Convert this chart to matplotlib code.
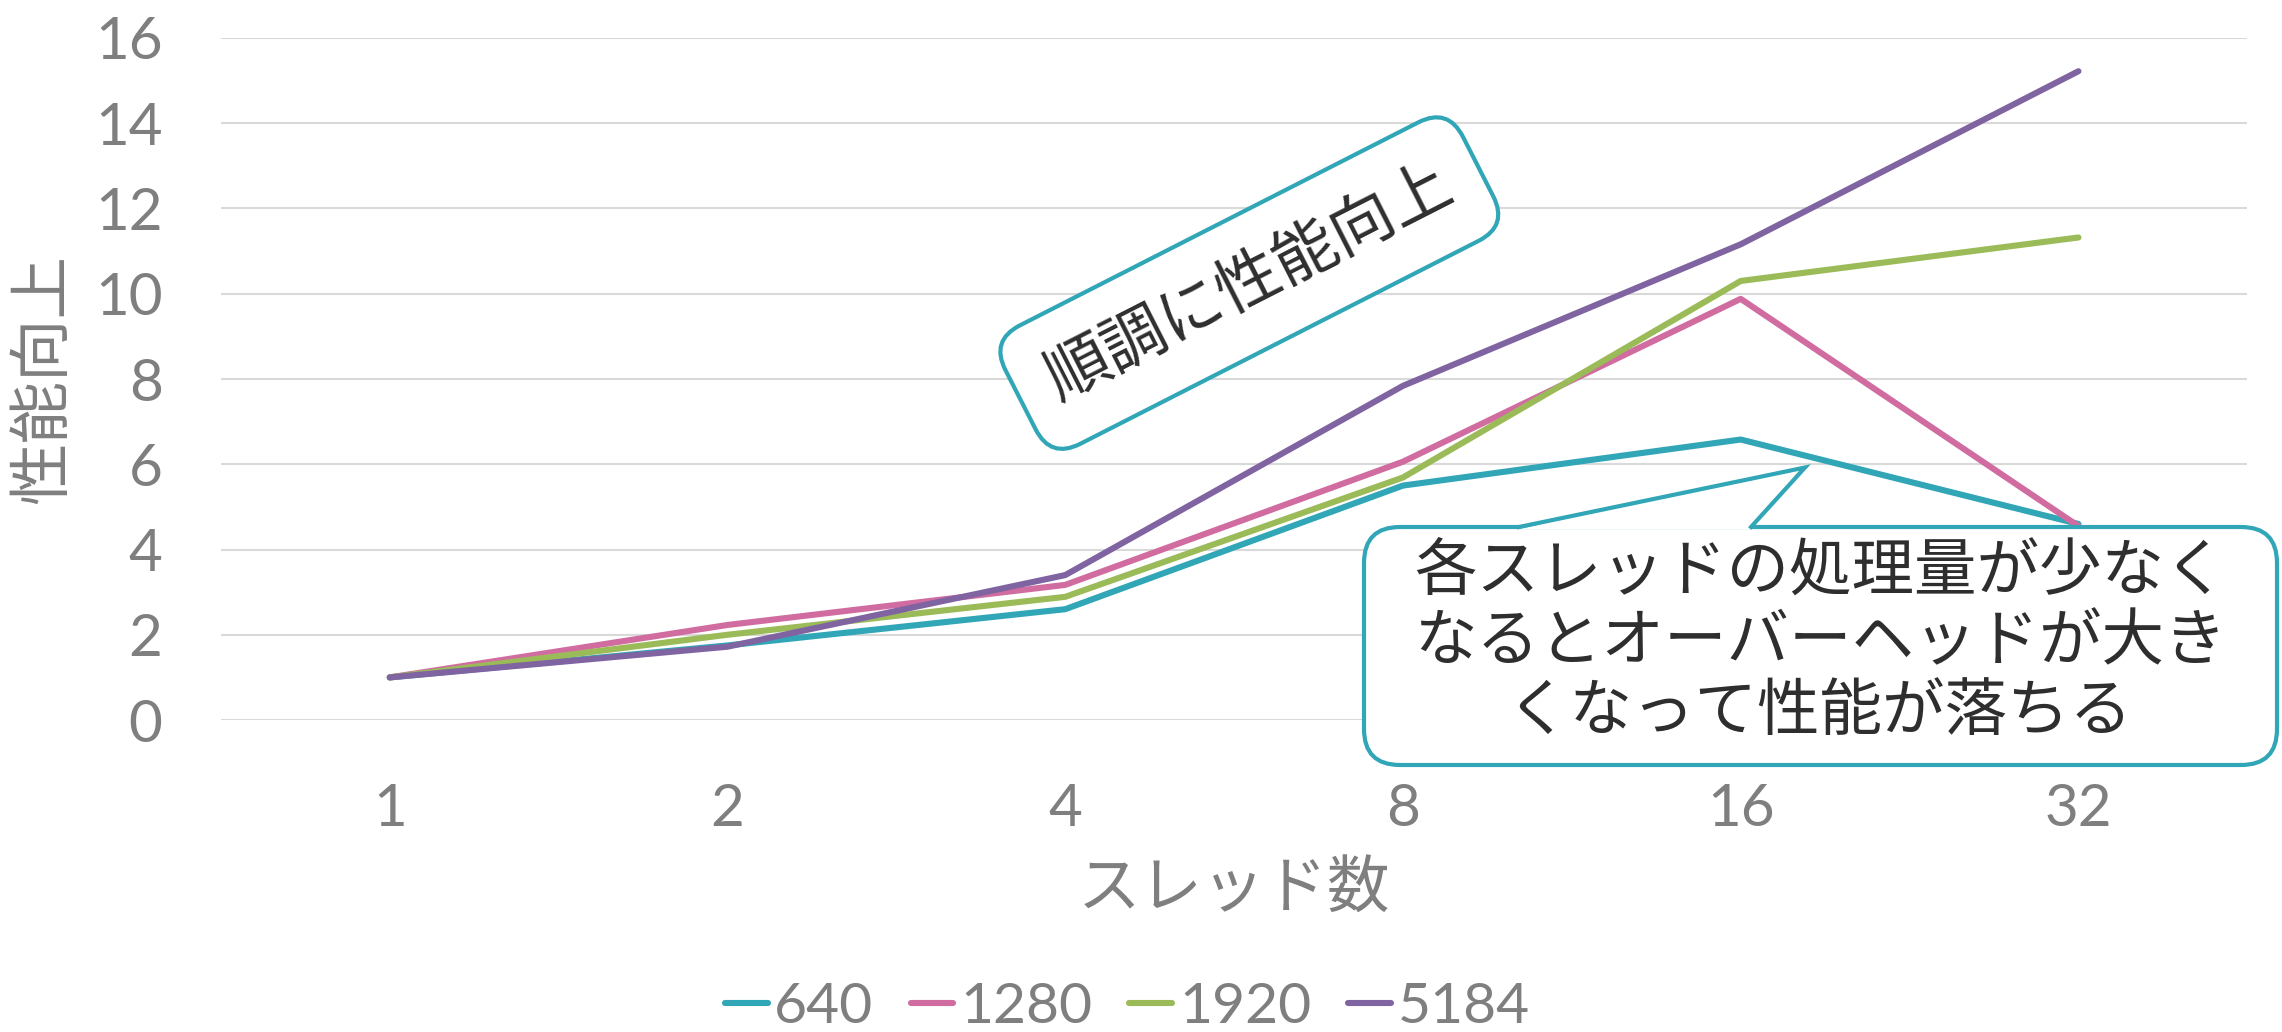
import matplotlib
matplotlib.use('Agg')
import matplotlib.pyplot as plt
from matplotlib.patches import FancyBboxPatch, Polygon
from matplotlib.lines import Line2D

# データ (スレッド数ごとの性能向上)
threads = ['1', '2', '4', '8', '16', '32']
series_names = ['640', '1280', '1920', '5184']
res_640 = [1.0, 1.75, 2.6, 5.5, 6.58, 4.6]
res_1280 = [1.0, 2.23, 3.17, 6.06, 9.88, 4.55]
res_1920 = [1.0, 2.0, 2.89, 5.69, 10.3, 11.32]
res_5184 = [1.0, 1.72, 3.4, 7.84, 11.16, 15.22]
yticks = [0, 2, 4, 6, 8, 10, 12, 14, 16]

colors = ['#31A6B7', '#D06CA0', '#9BBB59', '#8064A2']
gray = '#7f7f7f'
teal = '#31A6B7'
cjk = ['Noto Sans CJK JP', 'DejaVu Sans']

plt.rcParams['font.family'] = ['Lato', 'Noto Sans CJK JP', 'DejaVu Sans']

fig = plt.figure(figsize=(22.82, 10.32), dpi=100)
ax = fig.add_axes([0.0968, 0.3023, 0.888, 0.6609])

x = list(range(len(threads)))
for vals, name, c in zip([res_640, res_1280, res_1920, res_5184], series_names, colors):
    ax.plot(x, vals, color=c, lw=4.4, label=name, zorder=3,
            solid_capstyle='round', solid_joinstyle='round')

ax.set_xlim(-0.5, len(threads) - 0.5)
ax.set_ylim(0, 16)
ax.set_xticks(x)
ax.set_xticklabels(threads)
ax.set_yticks(yticks)
ax.grid(axis='y', color='#d9d9d9', lw=1.5, zorder=0)
ax.set_axisbelow(True)
for s in ax.spines.values():
    s.set_visible(False)
ax.tick_params(axis='both', length=0, labelsize=42, labelcolor=gray)
ax.tick_params(axis='x', pad=45)
ax.tick_params(axis='y', pad=42)

ax.set_xlabel('スレッド数', family=cjk, fontsize=45, color=gray, labelpad=16)
ax.set_ylabel('性能向上', family=cjk, fontsize=45, color=gray, labelpad=14)

fig.legend(loc='center', bbox_to_anchor=(0.494, 0.024), ncol=4, frameon=False,
           fontsize=41, labelcolor=gray, handlelength=0.75, handletextpad=0.12,
           columnspacing=0.65)

# 吹き出し1 (回転した角丸四角)
ax.text(2.545, 10.25, '順調に性能向上', family=cjk, fontsize=46, color='#2e2e2e',
        rotation=27, rotation_mode='anchor', ha='center', va='center', zorder=6,
        bbox=dict(boxstyle='round,pad=0.52', fc='white', ec=teal, lw=3))

# 吹き出し2 (角丸四角 + 三角の尖り)
tr = fig.dpi_scale_trans
box = FancyBboxPatch((13.64, 2.67), 22.77 - 13.64, 5.05 - 2.67,
                     boxstyle='round,pad=0,rounding_size=0.36',
                     fc='white', ec=teal, lw=3, transform=tr, zorder=6,
                     clip_on=False)
fig.add_artist(box)
tri = Polygon([(15.19, 5.03), (18.05, 5.645), (17.51, 5.03)], closed=True,
              fc='white', ec='none', transform=tr, zorder=7)
fig.add_artist(tri)
fig.add_artist(Line2D([15.19, 18.05, 17.51], [5.05, 5.645, 5.05], color=teal,
                      lw=3, transform=tr, zorder=8, solid_joinstyle='miter'))
fig.text(18.2, 3.9, '各スレッドの処理量が少なく\nなるとオーバーヘッドが大き\nくなって性能が落ちる',
         transform=tr, family=cjk, fontsize=45, color='#2e2e2e', ha='center',
         va='center', linespacing=1.12, zorder=9)

fig.savefig('out.png', dpi=100)
